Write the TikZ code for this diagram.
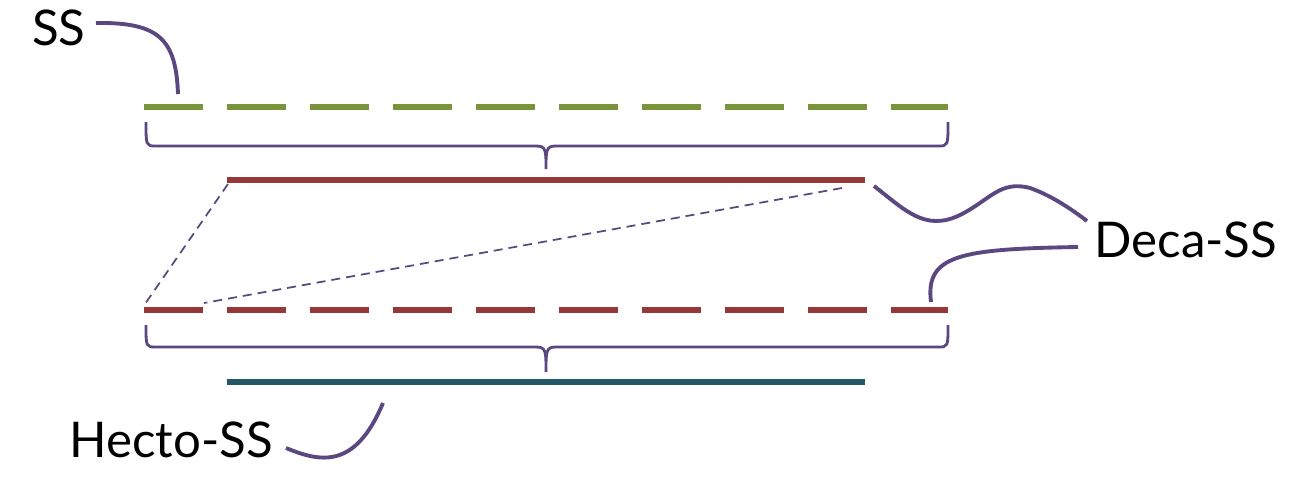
\documentclass[tikz,border=0pt]{standalone}
\usepackage{fontspec}
\setmainfont{Lato}
\usepackage{tikz}
\usetikzlibrary{positioning}

\definecolor{ssgreen}{RGB}{122,148,60}
\definecolor{decared}{RGB}{150,56,56}
\definecolor{hectoteal}{RGB}{35,88,102}
\definecolor{linkpurple}{RGB}{92,72,128}

\begin{document}
\begin{tikzpicture}[
  x=0.02cm,y=-0.02cm,
  label/.style={font=\fontsize{28}{32}\selectfont,inner sep=0pt},
  seg/.style={line width=0.12cm},
  dashseg/.style={seg,dash pattern=on 1.18cm off 0.48cm},
  brace/.style={linkpurple,line width=1.6pt},
  guide/.style={linkpurple,line width=1pt,dash pattern=on 0.18cm off 0.12cm},
  callout/.style={linkpurple,line width=2.2pt}]
\useasboundingbox (0,0) rectangle (1314,494);

% levels
\coordinate (ssL) at (144,107);  \coordinate (ssR) at (948,107);
\coordinate (decaL) at (227,180); \coordinate (decaR) at (865,180);
\coordinate (dsL) at (144,310);  \coordinate (dsR) at (948,310);
\coordinate (hectoL) at (227,382); \coordinate (hectoR) at (865,382);

\draw[dashseg,ssgreen] (ssL) -- (ssR);
\draw[seg,decared] (decaL) -- (decaR);
\draw[dashseg,decared] (dsL) -- (dsR);
\draw[seg,hectoteal] (hectoL) -- (hectoR);

% braces
\draw[brace] (146,122) .. controls (146,146) and (146,146) .. (156,146) -- (536,146)
  .. controls (546,146) and (546,150) .. (546,169)
  .. controls (546,150) and (546,146) .. (556,146) -- (938,146)
  .. controls (948,146) and (948,146) .. (948,122);
\draw[brace] (146,325) .. controls (146,347) and (146,347) .. (156,347) -- (536,347)
  .. controls (546,347) and (546,351) .. (546,372)
  .. controls (546,351) and (546,347) .. (556,347) -- (938,347)
  .. controls (948,347) and (948,347) .. (948,325);

% zoom guides
\draw[guide] (decaL) ++(1,4) -- (145,304);
\draw[guide] (842,188) -- (204,303);

% labels
\node[label,anchor=east] (ss) at (86,28) {SS};
\node[label,anchor=west] (deca) at (1094,240) {Deca-SS};
\node[label,anchor=east] (hecto) at (273,440) {Hecto-SS};

\draw[callout] ([xshift=0.2cm,yshift=0.1cm]ss.east)
  .. controls (160,22) and (176,40) .. (178,94);
\draw[callout] ([xshift=-0.14cm,yshift=0.38cm]deca.west)
  .. controls (1070,208) and (1050,195) .. (1030,188)
  .. controls (1000,180) and (990,200) .. (960,215)
  .. controls (925,232) and (905,210) .. (874,186);
\draw[callout] ([xshift=-0.32cm,yshift=-0.14cm]deca.west)
  .. controls (960,249) and (925,255) .. (931,302);
\draw[callout] ([xshift=0.26cm,yshift=-0.16cm]hecto.east)
  .. controls (320,462) and (355,470) .. (383,403);
\end{tikzpicture}
\end{document}
